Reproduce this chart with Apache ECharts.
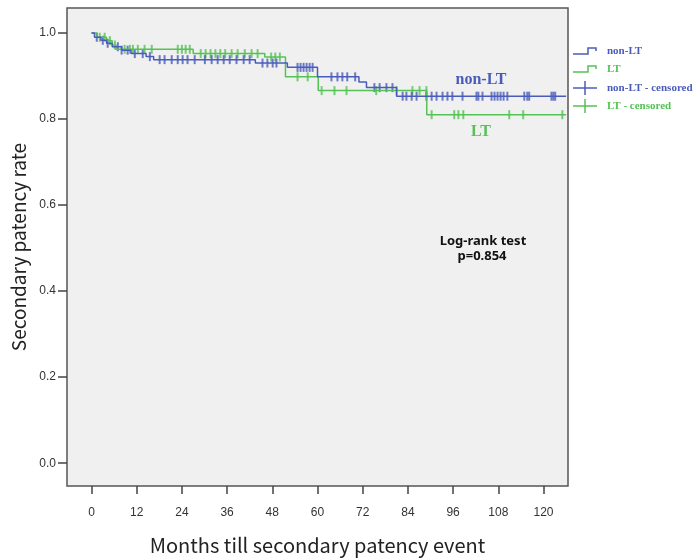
<!DOCTYPE html>
<html>
<head>
<meta charset="utf-8">
<script src="https://cdn.jsdelivr.net/npm/echarts@6/dist/echarts.min.js"></script>
<style>
  html, body { margin: 0; padding: 0; background: #fff; }
  #chart { width: 699px; height: 560px; }
</style>
</head>
<body>
<div id="chart"></div>
<script>
// Kaplan-Meier steps: [month, survival]
const nonLtSteps = [[0, 1], [0.8, 0.99], [2.5, 0.983], [4, 0.976], [5.5, 0.968], [8, 0.96], [10.5, 0.952],
    [14.5, 0.945], [16.5, 0.938], [43.5, 0.93], [52, 0.92], [60, 0.898], [71, 0.886], [73, 0.873], [81, 0.853]];
const ltSteps = [[0, 1], [1.5, 0.99], [4, 0.982], [5.5, 0.972], [6.5, 0.962], [27, 0.952], [46, 0.944],
    [51.5, 0.898], [60.2, 0.866], [89, 0.81]];
const lastFollowUp = 126;

// censored observations (months)
const nonLtCensored = [1.4, 3.0, 4.3, 7.0, 8.0, 9.6, 11.5, 13.6, 15.5, 18.1, 19.4, 21.3, 22.9, 24.2, 25.5, 27.4,
    30.1, 31.9, 33.5, 35.1, 36.7, 38.5, 40.4, 42.0, 45.4, 46.7, 48.1, 49.1, 54.7, 55.5, 56.3, 57.1, 57.9, 58.7,
    63.7, 65.3, 66.6, 67.9, 70.0, 75.1, 76.5, 78.3, 79.9, 82.6, 83.6, 85.0, 86.3, 88.9, 90.3, 91.6, 93.2, 94.5,
    95.8, 98.5, 102.2, 102.7, 103.8, 106.2, 107.0, 107.8, 108.6, 109.4, 110.4, 114.9, 115.7, 116.2, 122.1,
    122.6, 123.1];
const ltCensored = [2.2, 3.5, 4.9, 6.2, 8.8, 10.2, 11.0, 12.3, 14.1, 16.0, 22.9, 24.0, 25.0, 26.1, 29.0, 30.3,
    31.6, 32.9, 34.2, 35.5, 37.2, 38.8, 40.7, 42.5, 44.1, 47.7, 48.8, 50.0, 54.7, 57.4, 61.1, 64.5, 67.7, 75.6,
    81.0, 85.2, 87.1, 88.9, 90.3, 96.3, 97.4, 98.7, 110.9, 114.6, 125.0];

const xTicks = [0, 12, 24, 36, 48, 60, 72, 84, 96, 108, 120];
const yTicks = [0, 0.2, 0.4, 0.6, 0.8, 1.0];

const blue = '#4a5cba';
const green = '#55c255';

function levelAt(steps, t) {
    let s = steps[0][1];
    steps.forEach(p => { if (p[0] <= t) s = p[1]; });
    return s;
}
const curve = steps => steps.concat([[lastFollowUp, steps[steps.length - 1][1]]]);
const marks = (steps, times) => times.map(t => [t, levelAt(steps, t)]);

const chart = echarts.init(document.getElementById('chart'));

const legendRow = (y, color, label, kind) => {
    const shape = kind === 'line'
        ? { type: 'polyline', shape: { points: [[573, y + 3], [588, y + 3], [588, y - 3], [596, y - 3], [596, y]] } }
        : { type: 'group', children: [
            { type: 'line', shape: { x1: 573, y1: y, x2: 597, y2: y }, style: { stroke: color, lineWidth: 1.5 } },
            { type: 'line', shape: { x1: 585, y1: y - 7, x2: 585, y2: y + 7 }, style: { stroke: color, lineWidth: 1.5 } }
        ] };
    if (kind === 'line') shape.style = { stroke: color, lineWidth: 1.5, fill: null };
    return [shape, {
        type: 'text', x: 607, y: y, style: {
            text: label, fill: color, font: 'bold 11px "Liberation Serif", serif', verticalAlign: 'middle'
        }
    }];
};

chart.setOption({
    animation: false,
    backgroundColor: '#ffffff',
    grid: {
        left: 67, top: 8, width: 501, height: 488,
        show: true, backgroundColor: '#f0f0f0', borderColor: '#555', borderWidth: 1.5
    },
    xAxis: {
        type: 'value', min: -6.5, max: 126.5,
        name: 'Months till secondary patency event', nameLocation: 'middle', nameGap: 49,
        nameTextStyle: { fontSize: 20, color: '#222', fontFamily: 'Noto Sans CJK KR' },
        axisLine: { show: false, onZero: false },
        axisTick: { show: true, inside: false, customValues: xTicks, length: 8, lineStyle: { color: '#444', width: 1.5 } },
        axisLabel: { customValues: xTicks, color: '#333', fontSize: 12, margin: 21, fontFamily: 'Liberation Sans' },
        splitLine: { show: false }
    },
    yAxis: {
        type: 'value', min: -0.053, max: 1.058,
        name: 'Secondary patency rate', nameLocation: 'middle', nameGap: 38,
        nameTextStyle: { fontSize: 19, color: '#222', fontFamily: 'Noto Sans CJK KR' },
        axisLine: { show: false, onZero: false },
        axisTick: { show: true, inside: false, customValues: yTicks, length: 9, lineStyle: { color: '#444', width: 1.5 } },
        axisLabel: { customValues: yTicks, color: '#333', fontSize: 12, margin: 11, fontFamily: 'Liberation Sans',
            formatter: v => v.toFixed(1) },
        splitLine: { show: false }
    },
    series: [
        { name: 'LT', type: 'line', step: 'end', data: curve(ltSteps), symbol: 'none',
          lineStyle: { color: green, width: 1.5 } },
        { name: 'LT - censored', type: 'scatter', data: marks(ltSteps, ltCensored), symbol: 'rect',
          symbolSize: [2, 9], itemStyle: { color: green } },
        { name: 'non-LT', type: 'line', step: 'end', data: curve(nonLtSteps), symbol: 'none',
          lineStyle: { color: blue, width: 1.5 } },
        { name: 'non-LT - censored', type: 'scatter', data: marks(nonLtSteps, nonLtCensored), symbol: 'rect',
          symbolSize: [2, 9], itemStyle: { color: blue } }
    ],
    graphic: [].concat(
        legendRow(51, blue, 'non-LT', 'line'),
        legendRow(69, green, 'LT', 'line'),
        legendRow(88, blue, 'non-LT - censored', 'cross'),
        legendRow(106, green, 'LT - censored', 'cross'),
        [
            { type: 'text', x: 481, y: 80, style: { text: 'non-LT', fill: blue, align: 'center', verticalAlign: 'middle',
                font: 'bold 16px "Liberation Serif", serif' } },
            { type: 'text', x: 481, y: 132, style: { text: 'LT', fill: green, align: 'center', verticalAlign: 'middle',
                font: 'bold 16px "Liberation Serif", serif' } },
            { type: 'text', x: 483, y: 241, style: { text: 'Log-rank test', fill: '#111', align: 'center',
                verticalAlign: 'middle', font: 'bold 13px "Noto Sans", sans-serif' } },
            { type: 'text', x: 482, y: 256, style: { text: 'p=0.854', fill: '#111', align: 'center',
                verticalAlign: 'middle', font: 'bold 13px "Noto Sans", sans-serif' } }
        ]
    )
});
</script>
</body>
</html>
